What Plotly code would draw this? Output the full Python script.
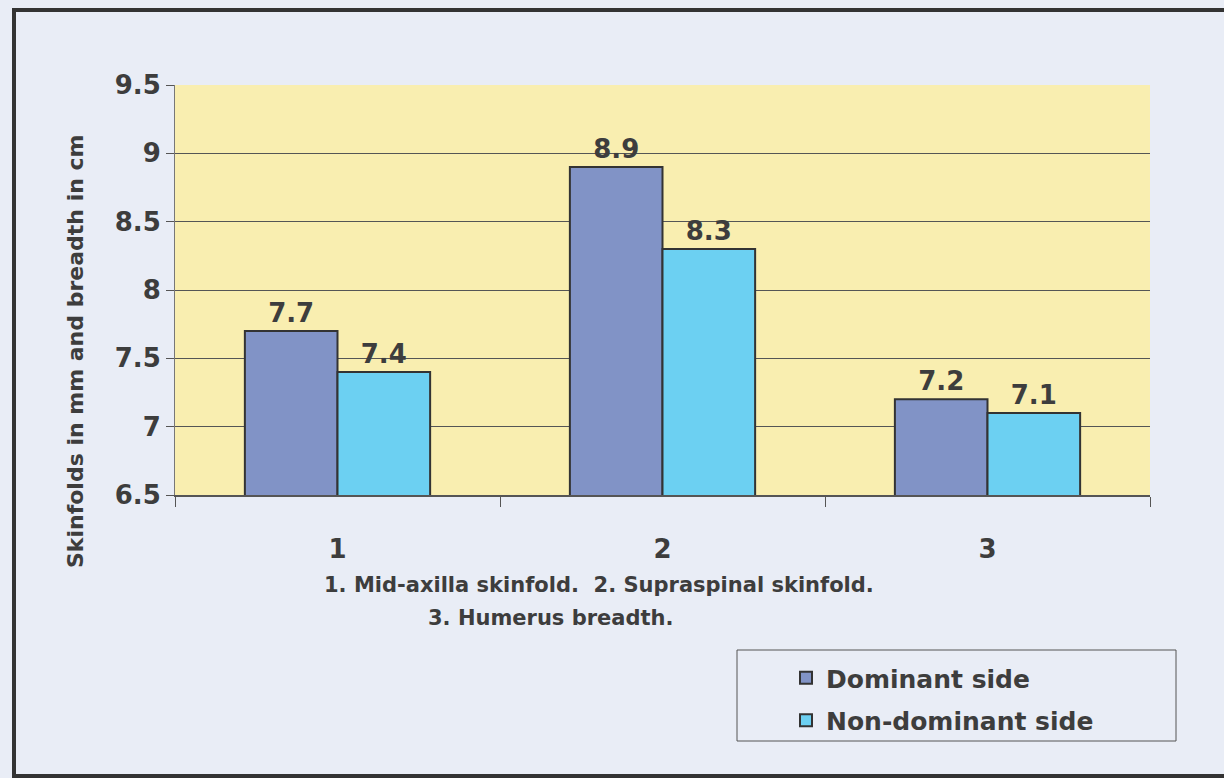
import plotly.graph_objects as go

categories = ["1", "2", "3"]
dominant = [7.7, 8.9, 7.2]
non_dominant = [7.4, 8.3, 7.1]
y_ticks = [6.5, 7, 7.5, 8, 8.5, 9, 9.5]
y_tick_labels = ["6.5", "7", "7.5", "8", "8.5", "9", "9.5"]

FONT = "DejaVu Sans, Liberation Sans, Arial, sans-serif"
TXT = "#3d3d3d"

W, H = 1224, 778
L, R, T, B = 175, 74, 85, 283
pw, ph = W - L - R, H - T - B


def px(x):
    return (x - L) / pw


def py(y):
    return (H - B - y) / ph


label_font = dict(family=FONT, size=26, color=TXT, weight="bold")

fig = go.Figure()
fig.add_trace(go.Bar(
    x=categories, y=dominant, name="Dominant side", legendgroup="d",
    marker=dict(color="#8193c6", line=dict(color="#333333", width=2)),
    text=[f"{v:g}" for v in dominant], textposition="outside",
    textfont=label_font, cliponaxis=False,
))
fig.add_trace(go.Bar(
    x=categories, y=non_dominant, name="Non-dominant side", legendgroup="n",
    marker=dict(color="#6cd0f2", line=dict(color="#333333", width=2)),
    text=[f"{v:g}" for v in non_dominant], textposition="outside",
    textfont=label_font, cliponaxis=False,
))

fig.update_layout(
    width=W, height=H,
    margin=dict(l=L, r=R, t=T, b=B, pad=0),
    paper_bgcolor="#e9edf6",
    plot_bgcolor="#f9eeb0",
    barmode="group", bargap=0.43, bargroupgap=0,
    font=dict(family=FONT, color=TXT),
    showlegend=True,
    legend=dict(
        x=px(786), y=py(655), xanchor="left", yanchor="top",
        bgcolor="rgba(0,0,0,0)", borderwidth=0,
        font=dict(family=FONT, size=25, color=TXT, weight="bold"),
        itemwidth=30, tracegroupgap=7,
    ),
    xaxis=dict(
        type="category", tickson="boundaries", ticks="outside", ticklen=10,
        tickcolor="#555555", showline=True, linecolor="#555555", linewidth=2,
        tickfont=dict(family=FONT, size=26, color=TXT, weight="bold"),
        ticklabelstandoff=30, showgrid=False,
    ),
    yaxis=dict(
        range=[6.5, 9.5], tickvals=y_ticks, ticktext=y_tick_labels,
        ticks="outside", ticklen=8, tickcolor="#555555",
        showline=True, linecolor="#777777", linewidth=1,
        gridcolor="#555555", gridwidth=1, zeroline=False,
        tickfont=dict(family=FONT, size=26, color=TXT, weight="bold"),
    ),
    shapes=[
        dict(type="rect", xref="paper", yref="paper",
             x0=px(14), x1=px(1280), y0=py(776), y1=py(10),
             line=dict(color="#333333", width=4), fillcolor="rgba(0,0,0,0)",
             layer="below"),
        dict(type="rect", xref="paper", yref="paper",
             x0=px(737), x1=px(1176), y0=py(741), y1=py(650),
             line=dict(color="#555555", width=1), fillcolor="rgba(0,0,0,0)"),
    ],
    annotations=[
        dict(xref="paper", yref="paper", x=px(75), y=py(352),
             xanchor="center", yanchor="middle",
             text="Skinfolds in mm and breadth in cm", textangle=-90,
             showarrow=False, font=dict(family=FONT, size=22, color=TXT, weight="bold")),
        dict(xref="paper", yref="paper", x=px(599), y=py(585),
             xanchor="center", yanchor="middle",
             text="1. Mid-axilla skinfold.  2. Supraspinal skinfold.",
             showarrow=False, font=dict(family=FONT, size=21, color=TXT, weight="bold")),
        dict(xref="paper", yref="paper", x=px(550), y=py(618),
             xanchor="center", yanchor="middle",
             text="3. Humerus breadth.",
             showarrow=False, font=dict(family=FONT, size=21, color=TXT, weight="bold")),
    ],
)

fig.write_html("out.html")
